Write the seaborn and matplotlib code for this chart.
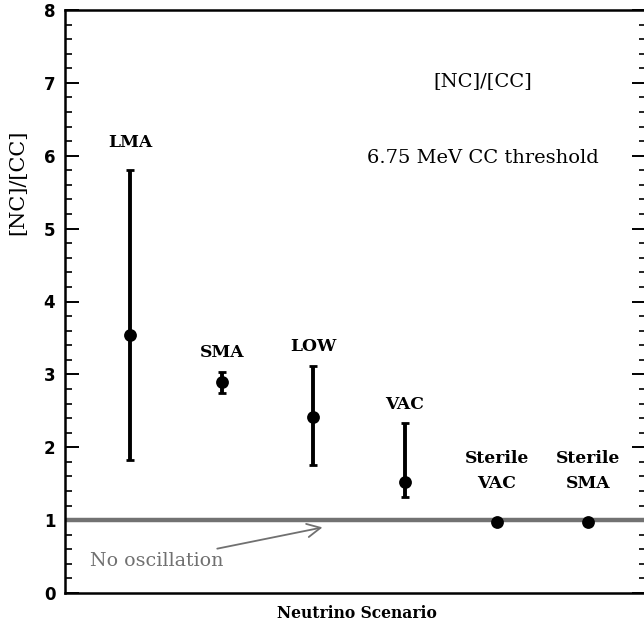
import matplotlib
matplotlib.use("Agg")
import matplotlib.pyplot as plt
import seaborn as sns
import pandas as pd
from matplotlib.ticker import MultipleLocator

# Predicted [NC]/[CC] ratios per neutrino scenario
scenarios = ["LMA", "SMA", "LOW", "VAC", "Sterile\nVAC", "Sterile\nSMA"]
positions = [1, 2, 3, 4, 5, 6]
ratio = [3.54, 2.89, 2.41, 1.52, 0.97, 0.98]
ratio_low = [1.83, 2.75, 1.75, 1.32, 0.97, 0.98]
ratio_high = [5.80, 3.03, 3.12, 2.33, 0.97, 0.98]
label_y = [6.18, 3.30, 3.38, 2.58, 1.68, 1.68]
no_osc = 1.0

df = pd.DataFrame({"pos": positions, "ratio": ratio,
                   "lo": ratio_low, "hi": ratio_high})

sns.set_style("ticks", {"axes.edgecolor": "black", "text.color": "black",
                        "ytick.color": "black", "xtick.color": "black"})
fig = plt.figure(figsize=(6.44, 6.29), dpi=100)
ax = fig.add_axes([65 / 644, 36 / 629, 581 / 644, 583 / 629])

serif = "DejaVu Serif"

# reference line: no oscillation
ax.axhline(no_osc, color="#727272", lw=3.2, zorder=1)

# error bars for scenarios with a range
rng = df[df.hi > df.lo]
ax.errorbar(rng.pos, rng.ratio,
            yerr=[rng.ratio - rng.lo, rng.hi - rng.ratio],
            fmt="none", ecolor="black", elinewidth=2.8,
            capsize=3, capthick=2.0, zorder=2)
sns.scatterplot(data=df, x="pos", y="ratio", ax=ax, color="black",
                s=85, edgecolor="black", linewidth=0, zorder=3, legend=False)

for x, y, name in zip(positions, label_y, scenarios):
    ax.text(x, y, name, ha="center", va="center", fontsize=12.3,
            fontweight="bold", family=serif, linespacing=1.62,
            color="black")

ax.text(4.85, 7.03, "[NC]/[CC]", ha="center", va="center",
        fontsize=14, family=serif, color="black")
ax.text(4.85, 5.97, "6.75 MeV CC threshold", ha="center", va="center",
        fontsize=14, family=serif, color="black")

ax.annotate("No oscillation", xy=(3.1, 0.9), xytext=(0.56, 0.44),
            ha="left", va="center", fontsize=13.7, family=serif,
            color="#707070",
            arrowprops=dict(arrowstyle="->", color="#707070", lw=1.3,
                            mutation_scale=24, shrinkA=0, shrinkB=0))

ax.set_xlim(0.29, 6.63)
ax.set_ylim(0, 8)
ax.set_xticks([])
ax.yaxis.set_major_locator(MultipleLocator(1))
ax.yaxis.set_minor_locator(MultipleLocator(0.2))
ax.tick_params(axis="y", which="major", direction="in", length=10,
               width=1.4, right=True, labelsize=12, pad=7,
               colors="black")
ax.tick_params(axis="y", which="minor", direction="in", length=5,
               width=1.2, right=True, colors="black")
for lab in ax.get_yticklabels():
    lab.set_fontweight("bold")
for sp in ax.spines.values():
    sp.set_linewidth(1.8)
    sp.set_color("black")

ax.set_xlabel("")
ax.set_ylabel("")
fig.text(357 / 644, 1 - 614 / 629, "Neutrino Scenario", ha="center",
         va="center", fontsize=11.2, fontweight="bold", family=serif,
         color="black")
fig.text(18 / 644, 1 - 182 / 629, "[NC]/[CC]", ha="center", va="center",
         rotation=90, fontsize=15, family=serif, color="black")

fig.savefig("out.png", dpi=100)
